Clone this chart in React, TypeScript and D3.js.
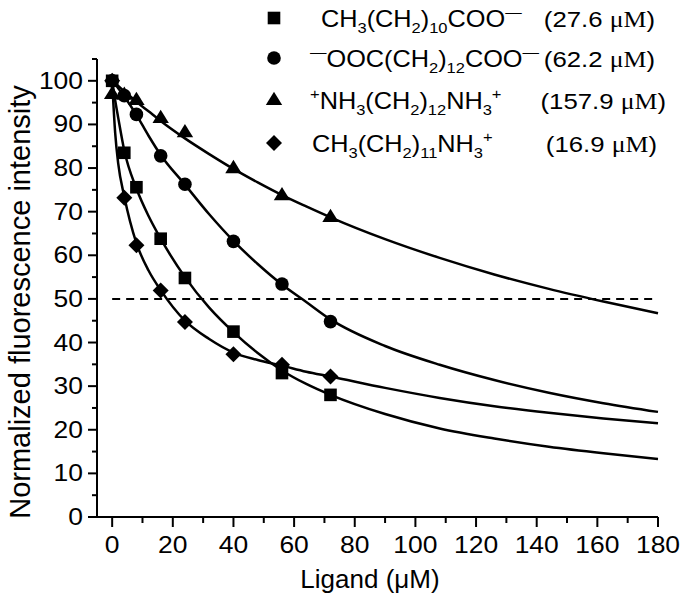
import React from "react";
import * as d3 from "d3";

// ---- data ----
const pointX = [0, 4, 8, 16, 24, 40, 56, 72];
const squareY = [100, 83.5, 75.6, 63.8, 54.8, 42.5, 33, 28];
const circleY = [100, 96.6, 92.3, 82.8, 76.3, 63.2, 53.4, 44.8];
const triangleY = [97, 96.8, 95.6, 91.5, 88.2, 80, 73.8, 68.8];
const diamondY = [100, 73.2, 62.3, 51.9, 44.7, 37.3, 34.9, 32.2];

// fitted curves
const curveX = [0, 1, 2, 4, 8, 12, 16, 24, 32, 40, 48, 56, 64, 72, 90, 108, 126, 144, 162, 180];
const squareCurve = [100, 95.5, 91.5, 84, 75.3, 69, 63.8, 55, 48, 42.4, 37.6, 33.6, 30.5, 28, 23.6, 20.3, 18, 16.1, 14.6, 13.3];
const circleCurve = [100, 99.2, 98.3, 96.4, 92.2, 87.4, 83, 76.2, 69.4, 63.3, 58, 53.3, 49.3, 45.3, 39.2, 34.9, 31.4, 28.5, 26.1, 24.1];
const triangleCurve = [100, 99.4, 98.8, 97.6, 95.2, 93, 90.8, 86.8, 83.2, 79.8, 76.7, 73.8, 71.2, 68.7, 63.7, 59.4, 55.6, 52.3, 49.4, 46.7];
const diamondCurve = [100, 88, 81, 73.5, 62.8, 56.5, 52, 45, 40.8, 37.7, 36, 34.7, 33.3, 32.2, 29.6, 27.3, 25.4, 23.9, 22.6, 21.5];

const xMajorTicks = [0, 20, 40, 60, 80, 100, 120, 140, 160, 180];
const xMinorTicks = [10, 30, 50, 70, 90, 110, 130, 150, 170];
const yMajorTicks = [0, 10, 20, 30, 40, 50, 60, 70, 80, 90, 100];
const yMinorTicks = [5, 15, 25, 35, 45, 55, 65, 75, 85, 95, 105];
const halfLine = 50;

// legend formulas: [text, kind] with kind n = normal, b = subscript, p = superscript
type Seg = [string, "n" | "b" | "p"];
const legendFormulas: Seg[][] = [
  [["CH", "n"], ["3", "b"], ["(CH", "n"], ["2", "b"], [")", "n"], ["10", "b"], ["COO", "n"], ["—", "p"]],
  [["—", "p"], ["OOC(CH", "n"], ["2", "b"], [")", "n"], ["12", "b"], ["COO", "n"], ["—", "p"]],
  [["+", "p"], ["NH", "n"], ["3", "b"], ["(CH", "n"], ["2", "b"], [")", "n"], ["12", "b"], ["NH", "n"], ["3", "b"], ["+", "p"]],
  [["CH", "n"], ["3", "b"], ["(CH", "n"], ["2", "b"], [")", "n"], ["11", "b"], ["NH", "n"], ["3", "b"], ["+", "p"]],
];
const legendValues = ["27.6", "62.2", "157.9", "16.9"];

const SANS = "'Liberation Sans', Arial, sans-serif";
const SERIF = "'Liberation Serif', 'Times New Roman', serif";

const W = 686;
const H = 603;

const x = d3.scaleLinear().domain([-5, 180]).range([97, 658]);
const y = d3.scaleLinear().domain([0, 105]).range([517, 59]);

type Shape = "square" | "circle" | "triangle" | "diamond";

function Marker({ shape, cx, cy }: { shape: Shape; cx: number; cy: number }) {
  if (shape === "square") return <rect x={cx - 6.3} y={cy - 6.3} width={12.6} height={12.6} fill="#000" />;
  if (shape === "circle") return <circle cx={cx} cy={cy} r={6.8} fill="#000" />;
  if (shape === "triangle") {
    const s = 8.2;
    return <path d={`M${cx},${cy - s}L${cx + s},${cy + s * 0.62}L${cx - s},${cy + s * 0.62}Z`} fill="#000" />;
  }
  const r = 8;
  return <path d={`M${cx},${cy - r}L${cx + r},${cy}L${cx},${cy + r}L${cx - r},${cy}Z`} fill="#000" />;
}

const series: { shape: Shape; pts: number[]; curve: number[] }[] = [
  { shape: "square", pts: squareY, curve: squareCurve },
  { shape: "circle", pts: circleY, curve: circleCurve },
  { shape: "triangle", pts: triangleY, curve: triangleCurve },
  { shape: "diamond", pts: diamondY, curve: diamondCurve },
];

const line = d3
  .line<[number, number]>()
  .x((d) => x(d[0]))
  .y((d) => y(d[1]))
  .curve(d3.curveMonotoneX);

const FS = 23;
const SUB = 15;
const OFF = { n: 0, b: 6, p: -10 };

function Formula({ segs }: { segs: Seg[] }) {
  let prev = 0;
  return (
    <>
      {segs.map(([t, k], j) => {
        const off = OFF[k];
        const dy = off - prev;
        prev = off;
        return (
          <tspan key={j} dy={dy} fontSize={k === "n" ? FS : SUB}>
            {t}
          </tspan>
        );
      })}
    </>
  );
}

const legendRowY = [18, 58, 100, 143];
const legendTextX = [321, 310, 310, 312];
const legendValEnd = [655, 655, 666, 657];
const legendShapes: Shape[] = ["square", "circle", "triangle", "diamond"];

export default function App() {
  return (
    <svg width={W} height={H} style={{ position: "absolute", left: 0, top: 0, background: "#fff" }} fontFamily={SANS}>
      <rect width={W} height={H} fill="#fff" />
      {/* axes */}
      <line x1={x(-5)} x2={x(180)} y1={y(0)} y2={y(0)} stroke="#000" strokeWidth={2} />
      <line x1={x(-5)} x2={x(-5)} y1={y(0)} y2={y(105)} stroke="#000" strokeWidth={2} />
      {xMajorTicks.map((t) => (
        <g key={"xm" + t}>
          <line x1={x(t)} x2={x(t)} y1={y(0)} y2={y(0) + 10} stroke="#000" strokeWidth={2} />
          <text transform={`translate(${x(t)},553) scale(1.15,1)`} textAnchor="middle" fontSize={23}>{t}</text>
        </g>
      ))}
      {xMinorTicks.map((t) => (
        <line key={"xn" + t} x1={x(t)} x2={x(t)} y1={y(0)} y2={y(0) + 6} stroke="#000" strokeWidth={2} />
      ))}
      {yMajorTicks.map((t) => (
        <g key={"ym" + t}>
          <line x1={x(-5) - 9} x2={x(-5)} y1={y(t)} y2={y(t)} stroke="#000" strokeWidth={2} />
          <text transform={`translate(83,${y(t) + 8}) scale(1.15,1)`} textAnchor="end" fontSize={23}>{t}</text>
        </g>
      ))}
      {yMinorTicks.map((t) => (
        <line key={"yn" + t} x1={x(-5) - 5} x2={x(-5)} y1={y(t)} y2={y(t)} stroke="#000" strokeWidth={2} />
      ))}
      <text x={370} y={588} textAnchor="middle" fontSize={26}>Ligand (μM)</text>
      <text transform={`translate(30,${302}) rotate(-90)`} textAnchor="middle" fontSize={29}>
        Normalized fluorescence intensity
      </text>

      {/* 50% dashed line */}
      <line x1={x(0)} x2={x(180)} y1={y(halfLine)} y2={y(halfLine)} stroke="#000" strokeWidth={2} strokeDasharray="8,6" />

      {/* curves */}
      {series.map((s, i) => (
        <path
          key={"c" + i}
          d={line(curveX.map((cx, j) => [cx, s.curve[j]] as [number, number])) || ""}
          fill="none"
          stroke="#000"
          strokeWidth={2.5}
        />
      ))}
      {/* markers */}
      {series.map((s, i) =>
        s.pts.map((v, j) => <Marker key={`m${i}-${j}`} shape={s.shape} cx={x(pointX[j])} cy={y(v)} />)
      )}

      {/* legend */}
      {legendShapes.map((sh, i) => (
        <g key={"lg" + i}>
          <Marker shape={sh} cx={274} cy={legendRowY[i]} />
          <text transform={`translate(${legendTextX[i]},${legendRowY[i] + 9}) scale(1.1,1)`} fontSize={FS}>
            <Formula segs={legendFormulas[i]} />
          </text>
          <text
            transform={`translate(${legendValEnd[i]},${legendRowY[i] + 9}) scale(1.12,1)`}
            fontSize={23}
            textAnchor="end"
          >
            <tspan>({legendValues[i]} </tspan>
            <tspan fontFamily={SERIF}>μM</tspan>
            <tspan>)</tspan>
          </text>
        </g>
      ))}
    </svg>
  );
}
